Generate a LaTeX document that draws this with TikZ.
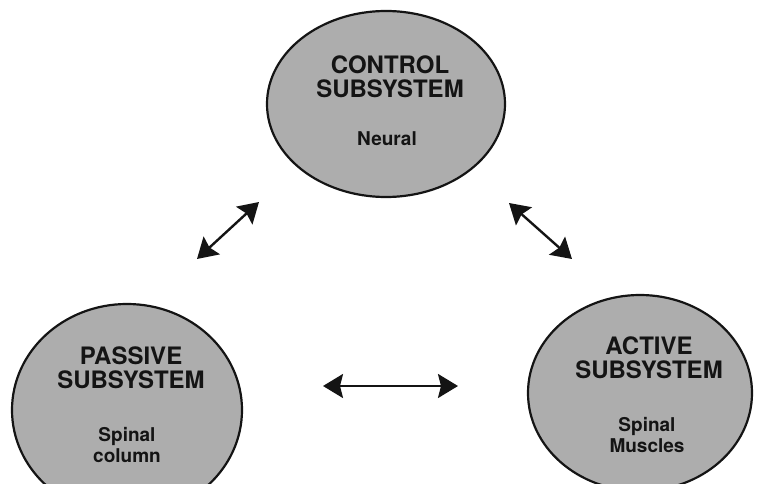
\documentclass[tikz,border=0pt]{standalone}
\usepackage{fontspec}
\setmainfont{TeX Gyre Heros}
\usetikzlibrary{arrows.meta,shapes.geometric}
\definecolor{ink}{HTML}{141414}
\definecolor{dots}{HTML}{ADADAD}
\tikzset{
  sys/.style={ellipse, draw=ink, fill=dots, line width=2.2pt, inner sep=0pt},
  ttl/.style={font=\bfseries\fontsize{24}{24}\selectfont, text=ink, align=center, inner sep=0pt},
  sub/.style={font=\bfseries\fontsize{19}{21}\selectfont, text=ink, align=center, inner sep=0pt},
}
\begin{document}
\begin{tikzpicture}[x=1pt, y=-1pt,
  link/.style={{Stealth[length=20pt,width=24pt,inset=3pt]}-{Stealth[length=20pt,width=24pt,inset=3pt]}, ink, line width=2.4pt}]
\useasboundingbox (0,0) rectangle (758,484);
% the three subsystems
\node[sys, minimum width=238pt, minimum height=186pt] (ctrl) at (386,104) {};
\node[sys, minimum width=230pt, minimum height=212pt] (pass) at (127,410) {};
\node[sys, minimum width=224pt, minimum height=196pt] (actv) at (640,393) {};
\node[ttl] (ctrlT) at (390,77) {CONTROL\\SUBSYSTEM};
\node[sub] (ctrlS) at (387,139) {Neural};
\node[ttl] (passT) at (131,368) {PASSIVE\\SUBSYSTEM};
\node[sub] (passS) at (127,445) {Spinal\\column};
\node[ttl] (actvT) at (649,358) {ACTIVE\\SUBSYSTEM};
\node[sub] (actvS) at (647,435) {Spinal\\Muscles};
% arrow ends
\coordinate (l1) at (197,259); \coordinate (l2) at (259,202);
\coordinate (r1) at (509,203); \coordinate (r2) at (572,259);
\coordinate (h1) at (323,386); \coordinate (h2) at (458,386);
\draw[link] (l1) -- (l2);
\draw[link] (r1) -- (r2);
\draw[link] (h1) -- (h2);
\end{tikzpicture}
\end{document}
